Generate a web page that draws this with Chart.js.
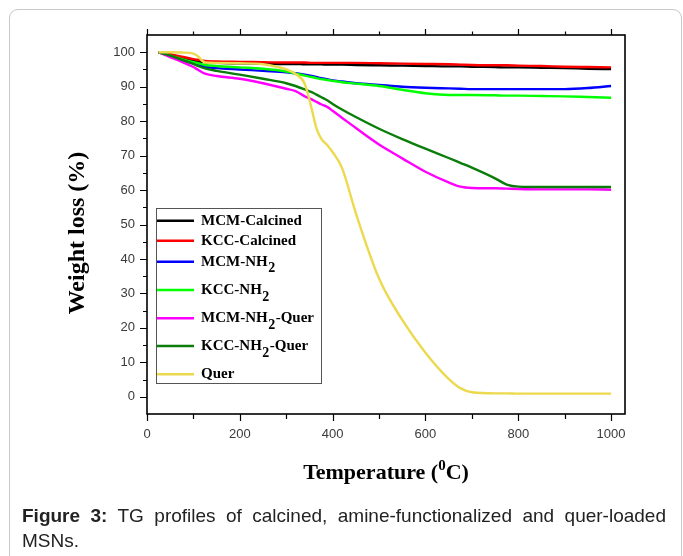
<!DOCTYPE html>
<html><head><meta charset="utf-8">
<script src="https://cdn.jsdelivr.net/npm/chart.js@4.4.1/dist/chart.umd.min.js"></script>
<style>
html,body{margin:0;padding:0;background:#fff;width:683px;height:556px;overflow:hidden}
#card{position:absolute;left:9px;top:9px;width:671px;height:620px;border:1px solid #c8c8c8;border-radius:9px;}
#c{position:absolute;left:0;top:0}
#cap{position:absolute;left:22px;top:503px;width:644px;font-family:"Liberation Sans",Arial,sans-serif;font-size:19px;line-height:25px;text-align:justify;color:#222}
</style></head><body>
<div id="card"></div>
<canvas id="c" width="683" height="556"></canvas>
<div id="cap"><b>Figure 3:</b> TG profiles of calcined, amine-functionalized and quer-loaded MSNs.</div>
<script>
// ---- data ----
const temperatures = [25,50,75,100,110,125,150,200,250,300,320,340,355,365,375,390,400,420,450,500,550,600,650,675,700,750,775,800,850,900,950,1000];
const mcmCalcined = [100,99.2,98.3,97.6,97.3,97.1,96.9,96.8,96.7,96.6,96.6,96.5,96.5,96.5,96.5,96.4,96.4,96.4,96.3,96.2,96.1,96.0,95.9,95.9,95.8,95.7,95.6,95.6,95.5,95.4,95.2,95.1];
const kccCalcined = [100,99.4,98.7,98.0,97.8,97.5,97.3,97.2,97.1,97.0,97.0,97.0,96.9,96.9,96.9,96.9,96.9,96.9,96.9,96.8,96.7,96.6,96.5,96.4,96.3,96.2,96.2,96.1,96.0,95.8,95.7,95.6];
const mcmNH2 = [100,98.8,97.7,96.7,96.3,95.8,95.4,95.0,94.6,94.2,93.9,93.5,93.1,92.8,92.5,92.1,91.8,91.5,91.0,90.5,90.0,89.7,89.5,89.4,89.3,89.3,89.3,89.3,89.3,89.3,89.6,90.2];
const kccNH2 = [100,99.0,98.0,97.1,96.8,96.3,96.0,95.6,95.2,94.4,93.8,93.2,92.8,92.5,92.2,91.9,91.7,91.3,90.9,90.2,89.1,88.1,87.6,87.6,87.6,87.5,87.4,87.4,87.3,87.2,87.0,86.8];
const mcmNH2Quer = [100,98.6,97.2,95.7,94.9,93.8,93.1,92.3,91.0,89.4,88.7,87.2,86.3,85.6,84.9,84.0,83.0,81.0,78.0,73.2,69.2,65.3,62.2,61.0,60.6,60.5,60.4,60.3,60.2,60.2,60.2,60.1];
const kccNH2Quer = [100,99.0,97.8,96.6,96.0,95.3,94.6,93.5,92.3,91.0,90.2,89.2,88.4,87.7,87.0,85.9,85.0,83.4,81.2,77.8,74.8,72.0,69.3,67.9,66.5,63.4,61.6,61.0,60.9,60.9,60.9,60.9];
const quer = [100,100,99.9,99.6,98.8,97.0,96.9,96.8,96.5,95.0,93.7,90.8,83.5,78.0,75.0,72.8,71.0,66.5,53.3,34.3,22.3,12.8,5.2,2.5,1.3,1.0,1.0,0.9,0.9,0.9,0.9,0.9];

const seriesLabels = ['MCM-Calcined','KCC-Calcined','MCM-NH₂','KCC-NH₂','MCM-NH₂-Quer','KCC-NH₂-Quer','Quer'];
const seriesColors = ['#000000','#ff0000','#0000ff','#00ff00','#ff00ff','#0a7d0a','#ecd94e'];
const seriesValues = [mcmCalcined,kccCalcined,mcmNH2,kccNH2,mcmNH2Quer,kccNH2Quer,quer];

const xTickValues = [0,200,400,600,800,1000];
const xMinorTickValues = [0,100,200,300,400,500,600,700,800,900,1000];
const yTickValues = [0,10,20,30,40,50,60,70,80,90,100];
const yMinorTickValues = [0,5,10,15,20,25,30,35,40,45,50,55,60,65,70,75,80,85,90,95,100];
const xTitleParts = ['Temperature (','0','C)'];
const yTitle = 'Weight loss (%)';

// ---- plugins ----
const framePlugin = {
  id:'frame',
  afterDraw(chart){
    const {ctx, chartArea:a, scales:{x,y}} = chart;
    ctx.save();
    ctx.strokeStyle='#000';
    ctx.lineWidth=1.2;
    ctx.beginPath();
    xMinorTickValues.forEach(v=>{
      const px=Math.round(x.getPixelForValue(v))+0.5;
      const major=xTickValues.includes(v);
      ctx.moveTo(px,a.bottom); ctx.lineTo(px,a.bottom+(major?7:5));
      ctx.moveTo(px,a.top); ctx.lineTo(px,a.top-(major?6:3.5));
    });
    yMinorTickValues.forEach(v=>{
      const py=Math.round(y.getPixelForValue(v))+0.5;
      const major=yTickValues.includes(v);
      ctx.moveTo(a.left,py); ctx.lineTo(a.left-(major?7:4),py);
    });
    ctx.stroke();
    ctx.lineWidth=1.6;
    ctx.strokeRect(a.left,a.top,a.right-a.left,a.bottom-a.top);
    // axis titles
    ctx.fillStyle='#000';
    ctx.font='bold 24px "Liberation Serif", "Times New Roman", serif';
    ctx.textAlign='center'; ctx.textBaseline='middle';
    ctx.save(); ctx.translate(78,233); ctx.rotate(-Math.PI/2); ctx.fillText(yTitle,0,0); ctx.restore();
    const big='bold 22px "Liberation Serif", "Times New Roman", serif';
    const small='bold 15px "Liberation Serif", "Times New Roman", serif';
    ctx.textAlign='left'; ctx.textBaseline='alphabetic';
    ctx.font=big; const w0=ctx.measureText(xTitleParts[0]).width, w2=ctx.measureText(xTitleParts[2]).width;
    ctx.font=small; const w1=ctx.measureText(xTitleParts[1]).width;
    let sx=(a.left+a.right)/2-(w0+w1+w2)/2; const by=479;
    ctx.font=big; ctx.fillText(xTitleParts[0],sx,by); sx+=w0;
    ctx.font=small; ctx.fillText(xTitleParts[1],sx,by-9); sx+=w1;
    ctx.font=big; ctx.fillText(xTitleParts[2],sx,by);
    ctx.restore();
  }
};

const legendPlugin = {
  id:'insideLegend',
  afterDraw(chart){
    const {ctx}=chart;
    const rows=[220.7,240.7,261.7,290,318.3,346,374.3];
    ctx.save();
    ctx.strokeStyle='#555'; ctx.lineWidth=1;
    ctx.strokeRect(156.5,208.5,165,175);
    const main='bold 15px "Liberation Serif", "Times New Roman", serif';
    const sub='bold 14px "Liberation Serif", "Times New Roman", serif';
    chart.data.datasets.forEach((ds,i)=>{
      const yy=rows[i];
      ctx.strokeStyle=ds.borderColor; ctx.lineWidth=2.5;
      ctx.beginPath(); ctx.moveTo(157,yy); ctx.lineTo(194,yy); ctx.stroke();
      ctx.fillStyle='#000'; ctx.textBaseline='middle'; ctx.textAlign='left';
      const parts=ds.label.split('₂');
      let xx=201;
      parts.forEach((p,k)=>{
        ctx.font=main; ctx.fillText(p,xx,yy); xx+=ctx.measureText(p).width;
        if(k<parts.length-1){ ctx.font=sub; ctx.fillText('2',xx+0.5,yy+7); xx+=ctx.measureText('2').width+1; }
      });
    });
    ctx.restore();
  }
};

const tickFont={family:'"Liberation Sans", Arial, sans-serif',size:13};
new Chart(document.getElementById('c'),{
  type:'line',
  data:{datasets:seriesValues.map((vals,i)=>({
    label:seriesLabels[i],
    data:temperatures.map((t,j)=>({x:t,y:vals[j]})),
    borderColor:seriesColors[i],
    backgroundColor:seriesColors[i],
    borderWidth:2.4,
    pointRadius:0,
    cubicInterpolationMode:'monotone',
    fill:false,
    order:6-i
  }))},
  options:{
    responsive:false,
    devicePixelRatio:1,
    animation:false,
    layout:{padding:{left:0,top:35,right:58,bottom:0}},
    plugins:{legend:{display:false},tooltip:{enabled:false}},
    scales:{
      x:{type:'linear',min:0,max:1030,
        grid:{display:false},border:{display:false},
        ticks:{padding:5,color:'#3a3a3a',font:tickFont,maxRotation:0,autoSkip:false,callback:v=>String(v)},
        afterBuildTicks:s=>{s.ticks=xTickValues.map(v=>({value:v}));},
        afterFit:s=>{s.height=142;}
      },
      y:{type:'linear',min:-5,max:105,
        grid:{display:false},border:{display:false},
        ticks:{padding:4,color:'#3a3a3a',font:tickFont,autoSkip:false,callback:v=>String(v)},
        afterBuildTicks:s=>{s.ticks=yTickValues.map(v=>({value:v}));},
        afterFit:s=>{s.width=147;}
      }
    }
  },
  plugins:[framePlugin,legendPlugin]
});
</script>
</body></html>
